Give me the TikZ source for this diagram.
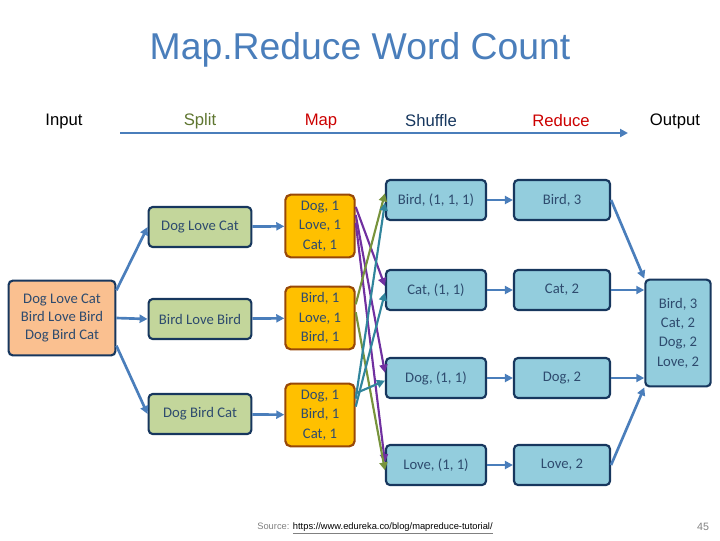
\documentclass[tikz,border=0pt]{standalone}
\usepackage{fontspec}
\setmainfont{Carlito}
\newfontfamily\arial{Liberation Sans}
\usetikzlibrary{arrows.meta}
\definecolor{titleblue}{HTML}{4A7EBB}
\definecolor{bord}{HTML}{17375E}
\definecolor{boxblue}{HTML}{93CDDD}
\definecolor{boxgreen}{HTML}{C3D69B}
\definecolor{mapfill}{HTML}{FFC000}
\definecolor{mapbord}{HTML}{984807}
\definecolor{infill}{HTML}{FAC090}
\definecolor{arr}{HTML}{4A7EBB}
\definecolor{purp}{HTML}{7030A0}
\definecolor{olive}{HTML}{77933C}
\definecolor{teal}{HTML}{31859C}
\tikzset{
 bx/.style={draw=bord, line width=1.6pt, rounded corners=3pt, minimum width=#1, align=center, font=\fontsize{11}{13.5}\selectfont, text=bord!90},
 bx/.default=70pt,
 hd/.style={font=\arial\fontsize{12.5}{14}\selectfont},
 ar/.style={-{Triangle[length=6pt,width=6pt]}, line width=2pt, draw=arr},
 sh/.style={-{Triangle[length=6pt,width=6pt]}, line width=1.6pt}
}
\begin{document}
\begin{tikzpicture}[x=0.75pt,y=-0.75pt]
\useasboundingbox (0,0) rectangle (720,540);
\node[font=\arial\fontsize{28}{30}\selectfont, text=titleblue] (title) at (360,50) {Map.Reduce Word Count};
\node[hd] (hin) at (64,121) {Input};
\node[hd,text=olive!80!black] (hsp) at (200,121) {Split};
\node[hd,text=red!80!black] (hmap) at (321,121) {Map};
\node[hd,text=bord] (hsh) at (431,121) {Shuffle};
\node[hd,text=red!80!black] (hred) at (561,121) {Reduce};
\node[hd] (hout) at (675,121) {Output};
\coordinate (a1) at (120,133); \coordinate (a2) at (628,133);
\draw[ar] (a1) -- (a2);

\node[bx=80pt, fill=infill, minimum height=56pt] (in) at (62,318) {Dog Love Cat\\Bird Love Bird\\Dog Bird Cat};
\node[bx=77pt, fill=boxgreen, minimum height=30pt] (s1) at (200,227) {Dog Love Cat};
\node[bx=77pt, fill=boxgreen, minimum height=30pt] (s2) at (200,319) {Bird Love Bird};
\node[bx=77pt, fill=boxgreen, minimum height=30pt] (s3) at (200,414) {Dog Bird Cat};
\tikzset{mp/.style={draw=mapbord, fill=mapfill, line width=1.6pt, rounded corners=4pt, minimum width=52pt, minimum height=47pt, align=center, font=\fontsize{11}{14.5}\selectfont, text=bord!90}}
\node[mp] (m1) at (320,226) {Dog, 1\\Love, 1\\Cat, 1};
\node[mp] (m2) at (320,318) {Bird, 1\\Love, 1\\Bird, 1};
\node[mp] (m3) at (320,415) {Dog, 1\\Bird, 1\\Cat, 1};
\node[bx=75pt, fill=boxblue, minimum height=30pt] (sb) at (436,200) {Bird, (1, 1, 1)};
\node[bx=75pt, fill=boxblue, minimum height=30pt] (sc) at (436,290) {Cat, (1, 1)};
\node[bx=75pt, fill=boxblue, minimum height=30pt] (sd) at (436,378) {Dog, (1, 1)};
\node[bx=75pt, fill=boxblue, minimum height=30pt] (sl) at (436,465) {Love, (1, 1)};
\node[bx=72pt, fill=boxblue, minimum height=30pt] (rb) at (562,200) {Bird, 3};
\node[bx=72pt, fill=boxblue, minimum height=30pt] (rc) at (562,290) {Cat, 2};
\node[bx=72pt, fill=boxblue, minimum height=30pt] (rd) at (562,378) {Dog, 2};
\node[bx=72pt, fill=boxblue, minimum height=30pt] (rl) at (562,465) {Love, 2};
\node[bx=49pt, fill=boxblue, minimum height=80pt, font=\fontsize{11}{14.5}\selectfont] (out) at (678,333) {Bird, 3\\Cat, 2\\Dog, 2\\Love, 2};

\draw[ar] ([yshift=-8pt]in.north east) -- (s1.west);
\draw[ar] (in.east) -- (s2.west);
\draw[ar] ([yshift=8pt]in.south east) -- (s3.west);
\draw[ar] (s1) -- (m1);
\draw[ar] (s2) -- (m2);
\draw[ar] (s3) -- (m3);
\draw[ar] (sb) -- (rb);
\draw[ar] (sc) -- (rc);
\draw[ar] (sd) -- (rd);
\draw[ar] (sl) -- (rl);
\draw[ar] (rb.east) -- (out.north west);
\draw[ar] (rc.east) -- (out.west|-rc.east);
\draw[ar] (rd.east) -- (out.west|-rd.east);
\draw[ar] (rl.east) -- (out.south west);

\draw[sh,purp] ([yshift=-10pt]m1.north east) -- ([yshift=3pt]sc.west);
\draw[sh,purp] ([yshift=-16pt]m1.north east) -- ([yshift=4pt]sd.west);
\draw[sh,purp] ([yshift=-22pt]m1.north east) -- ([yshift=2pt]sl.west);
\draw[sh,olive] ([yshift=-14pt]m2.north east) -- ([yshift=5pt]sb.west);
\draw[sh,olive] ([yshift=-20pt]m2.north east) -- ([yshift=-4pt]sl.west);
\draw[sh,teal] ([yshift=-12pt]m3.north east) -- ([yshift=-2pt]sb.west);
\draw[sh,teal] ([yshift=-18pt]m3.north east) -- ([yshift=-2pt]sc.west);
\draw[sh,teal] ([yshift=-8pt]m3.north east) -- ([yshift=-2pt]sd.west);

\node[font=\arial\fontsize{7}{8}\selectfont, text=gray] (src) at (375,528) {Source: \underline{\textcolor{black}{https://www.edureka.co/blog/mapreduce-tutorial/}}};
\node[font=\arial\fontsize{8}{9}\selectfont, text=gray] (pg) at (703,527) {45};
\end{tikzpicture}
\end{document}
